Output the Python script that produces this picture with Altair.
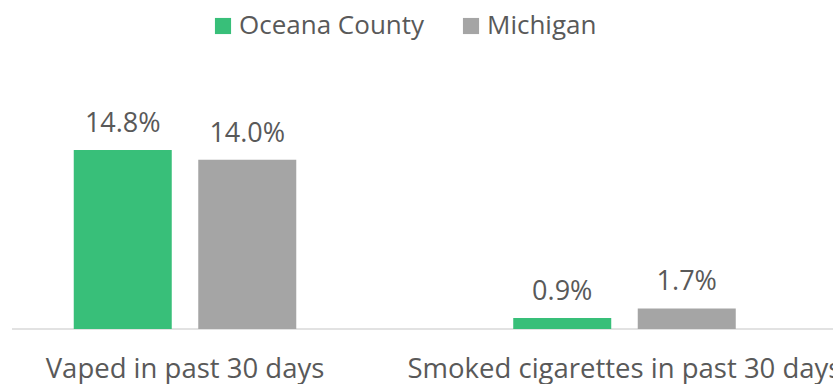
import altair as alt
import pandas as pd

categories = ["Vaped in past 30 days", "Smoked cigarettes in past 30 days"]
series = ["Oceana County", "Michigan"]
oceana = [14.8, 0.9]
michigan = [14.0, 1.7]
colors = ["#38bf79", "#a5a5a5"]

rows = []
for i, c in enumerate(categories):
    rows.append({"category": c, "series": series[0], "value": oceana[i]})
    rows.append({"category": c, "series": series[1], "value": michigan[i]})
df = pd.DataFrame(rows)

FONT = "Open Sans"
TXT = "#595959"
W, H = 785.5, 269

x = alt.X("category:N", sort=categories, title=None,
          scale=alt.Scale(paddingInner=0.4937, paddingOuter=0.1405),
          axis=alt.Axis(domain=False, ticks=False, labelAngle=0, labelFontSize=27.5,
                        labelFont=FONT, labelColor=TXT, labelPadding=26, labelLimit=800))
xo = alt.XOffset("series:N", sort=series,
                 scale=alt.Scale(paddingInner=0.2129, paddingOuter=0))
y = alt.Y("value:Q", axis=None, scale=alt.Scale(domain=[0, 22.25], nice=False))

base = alt.Chart(df).encode(x=x, xOffset=xo, y=y)

bars = base.mark_bar().encode(
    color=alt.Color("series:N", sort=series,
                    scale=alt.Scale(domain=series, range=colors),
                    legend=alt.Legend(title=None, orient="none", direction="horizontal",
                                      legendX=198, legendY=-47, symbolType="square",
                                      symbolSize=260, symbolStrokeWidth=0,
                                      labelFontSize=26, labelFont=FONT, labelColor=TXT,
                                      labelLimit=500,
                                      labelOffset=3, columnPadding=33, padding=0))
)

labels = base.transform_calculate(
    lab="format(datum.value, '.1f') + '%'"
).mark_text(fontSize=27, font=FONT, color=TXT, baseline="alphabetic", dy=-18).encode(
    text="lab:N"
)

rule_df = pd.DataFrame({"v": [0]})
baseline = alt.Chart(rule_df).mark_rule(color="#d9d9d9", strokeWidth=1.5).encode(
    x=alt.value(0), x2=alt.value(821), y=alt.Y("v:Q", scale=alt.Scale(domain=[0, 22.25], nice=False), axis=None)
)

chart = alt.layer(baseline, bars, labels).properties(
    width=W, height=H,
    padding={"left": 12, "top": 60, "right": 35.5, "bottom": 55},
    autosize=alt.AutoSizeParams(type="none"),
    background="white",
).configure_view(stroke=None)

chart.save("out.html", embed_options={"renderer": "svg", "actions": False})
